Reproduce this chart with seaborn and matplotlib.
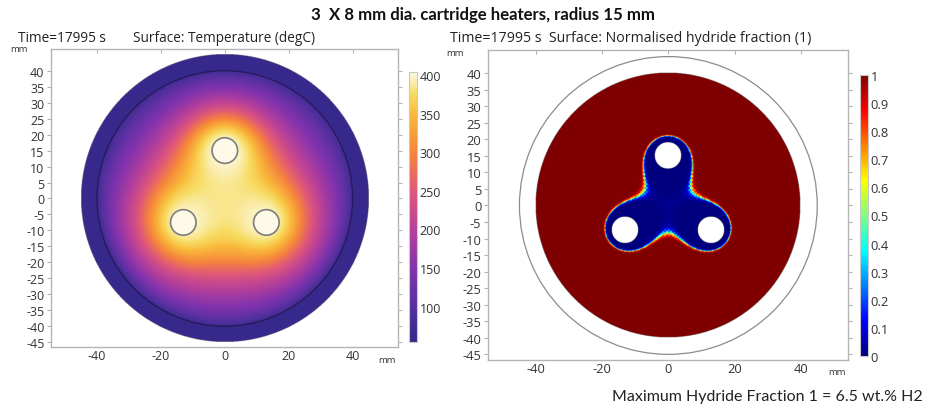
import numpy as np
import matplotlib
matplotlib.use("Agg")
import matplotlib.pyplot as plt
from matplotlib.colors import LinearSegmentedColormap
from matplotlib.patches import Circle
import seaborn as sns

# ---- text -----------------------------------------------------------------
title = "3  X 8 mm dia. cartridge heaters, radius 15 mm"
left_time = "Time=17995 s"
left_surface = "Surface: Temperature (degC)"
right_caption = "Time=17995 s  Surface: Normalised hydride fraction (1)"
footnote = "Maximum Hydride Fraction 1 = 6.5 wt.% H2"

# ---- geometry (mm) ----------------------------------------------------------
heater_x = [0.0, -13.0, 13.0]
heater_y = [15.0, -7.5, -7.5]
heater_decay = [9.5, 12.5, 12.5]   # mm, thermal reach of each heater
heater_radius = 4.0
bed_radius = 40.0
jacket_radius = 45.0

# ---- temperature model parameters ------------------------------------------
temp_jacket = 58.0      # degC in the outer jacket
temp_wall = 72.0        # degC on the inside of the bed wall
temp_heater = 404.0     # degC at the heater surface
wall_decay = 3.0        # mm, cooling layer towards the wall
saturation = 6.0

# ---- dehydriding front parameters ------------------------------------------
front_decay = 10.0      # mm
front_level = 0.64
front_width = 0.007
front_ripple = 0.006
ripple_period = 1.2     # mm

# ---- axes / colour bars ----------------------------------------------------
x_ticks = [-40, -20, 0, 20, 40]
y_ticks = [-45, -40, -35, -30, -25, -20, -15, -10, -5, 0, 5, 10, 15, 20, 25, 30, 35, 40]
temp_ticks = [100, 150, 200, 250, 300, 350, 400]
temp_range = [54.0, 404.0]
fraction_ticks = [0, 0.1, 0.2, 0.3, 0.4, 0.5, 0.6, 0.7, 0.8, 0.9, 1]
fraction_labels = ["0", "0.1", "0.2", "0.3", "0.4", "0.5", "0.6", "0.7", "0.8", "0.9", "1"]

temp_stops = [0.0, 0.13, 0.27, 0.42, 0.56, 0.70, 0.84, 0.92, 1.0]
temp_colors = ["#35298a", "#55309f", "#8233ad", "#b8409a", "#df5878",
               "#f5843c", "#f9b73a", "#f7dc62", "#fdfae8"]
rainbow_colors = ["#00007f", "#0000ff", "#007fff", "#00ffff", "#7fff7f",
                  "#ffff00", "#ff7f00", "#ff0000", "#7f0000"]

sns.set_theme(style="white")
plt.rcParams["font.family"] = ["Open Sans", "DejaVu Sans"]

temp_cmap = LinearSegmentedColormap.from_list(
    "heat_light", list(zip(temp_stops, temp_colors)))
frac_cmap = sns.blend_palette(rainbow_colors, n_colors=256, as_cmap=True)

# ---- fields ---------------------------------------------------------------
n = 901
grid = np.linspace(-jacket_radius, jacket_radius, n)
X, Y = np.meshgrid(grid, grid)
R = np.hypot(X, Y)

influence = np.zeros_like(X)
front = np.zeros_like(X)
inside_heater = np.zeros_like(X, dtype=bool)
for hx, hy, lam in zip(heater_x, heater_y, heater_decay):
    d = np.hypot(X - hx, Y - hy)
    inside_heater |= d <= heater_radius
    influence += np.exp(-np.clip(d - heater_radius, 0, None) / lam)
    front += np.exp(-d / front_decay)
influence = (influence ** -saturation + 1) ** (-1 / saturation)
wall = np.clip(1 - np.exp(-(bed_radius - R) / wall_decay), 0, 1)
temperature = temp_wall + (temp_heater - temp_wall) * influence * wall
temperature[R > bed_radius] = temp_jacket
temperature[inside_heater] = temp_heater
temperature = np.ma.masked_where(R > jacket_radius, temperature)

ripple = front_ripple * np.sin(2 * np.pi * X / ripple_period) \
    * np.sin(2 * np.pi * Y / ripple_period)
fraction = 1.0 / (1.0 + np.exp((front - front_level + ripple) / front_width))
fraction = np.ma.masked_where((R > bed_radius) | inside_heater, fraction)

# ---- figure ---------------------------------------------------------------
W, H = 925, 410
fig = plt.figure(figsize=(W / 100, H / 100), dpi=100)


def box(x0, y0, x1, y1):
    return [x0 / W, 1 - y1 / H, (x1 - x0) / W, (y1 - y0) / H]


spine_col = "#b4b4b4"
tick_col = "#333333"


def style_axes(ax, xlim, ylim, size):
    ax.set_xlim(*xlim)
    ax.set_ylim(*ylim)
    ax.set_xticks(x_ticks)
    ax.set_yticks(y_ticks)
    ax.set_xticklabels([str(v) for v in x_ticks])
    ax.set_yticklabels([str(v) for v in y_ticks])
    for sp in ax.spines.values():
        sp.set_visible(True)
        sp.set_color(spine_col)
        sp.set_linewidth(1.0)
    ax.tick_params(axis="both", which="major", labelsize=size, colors=tick_col,
                   length=3, width=0.8, color=spine_col, pad=1.5,
                   direction="in", top=True, right=True)
    ax.tick_params(axis="y", left=True, direction="out")
    ax.grid(False)
    ax.set_facecolor("white")


# left: temperature
axL = fig.add_axes(box(50.7, 49, 398, 349))
axL.imshow(temperature, origin="lower", cmap=temp_cmap, vmin=temp_range[0],
           vmax=temp_range[1], extent=[-jacket_radius, jacket_radius,
                                       -jacket_radius, jacket_radius],
           interpolation="bilinear", zorder=1)
axL.add_patch(Circle((0, 0), bed_radius, fill=False, ec="#261b5c", lw=1.0, zorder=3))
for hx, hy in zip(heater_x, heater_y):
    axL.add_patch(Circle((hx, hy), heater_radius, fc=temp_cmap(1.0),
                         ec="#7d7d7a", lw=1.2, zorder=3))
style_axes(axL, (-54.5, 54.2), (-46.6, 46.9), 9)

# right: hydride fraction
axR = fig.add_axes(box(487.7, 50, 848, 362.3))
axR.imshow(fraction, origin="lower", cmap=frac_cmap, vmin=0, vmax=1,
           extent=[-jacket_radius, jacket_radius, -jacket_radius, jacket_radius],
           interpolation="bilinear", zorder=1)
axR.add_patch(Circle((0, 0), jacket_radius, fill=False, ec="#8c8c8c", lw=0.9, zorder=3))
style_axes(axR, (-54.6, 54.3), (-46.8, 47.0), 9.3)

# colour bars
caxL = fig.add_axes(box(409, 73, 417, 343))
cbL = fig.colorbar(axL.images[0], cax=caxL, ticks=temp_ticks)
caxR = fig.add_axes(box(860, 76, 868, 357))
cbR = fig.colorbar(axR.images[0], cax=caxR, ticks=fraction_ticks)
cbR.set_ticklabels(fraction_labels)
for cb, size in ((cbL, 9), (cbR, 9.3)):
    cb.outline.set_edgecolor("#c8c8c8")
    cb.outline.set_linewidth(0.8)
    cb.ax.tick_params(labelsize=size, colors=tick_col, length=2, width=0.8,
                      color="#555555", direction="in", pad=2)

# text
fig.text(483 / W, 1 - 15 / H, title, ha="center", va="center",
         fontsize=12.1, fontweight="bold", family=["Lato", "DejaVu Sans"],
         color="#111111")
fig.text(18 / W, 1 - 38 / H, left_time, ha="left", va="center", fontsize=9.8,
         color="#222222")
fig.text(133 / W, 1 - 38 / H, left_surface, ha="left", va="center",
         fontsize=9.8, color="#222222")
fig.text(450 / W, 1 - 39 / H, right_caption, ha="left", va="center",
         fontsize=10.2, color="#222222")
for (mx, my) in [(10, 50), (446, 53), (378, 361), (828, 373)]:
    fig.text(mx / W, 1 - my / H, "mm", ha="left", va="center", fontsize=6.8,
             color="#333333")
fig.text(923 / W, 1 - 397 / H, footnote, ha="right", va="center",
         fontsize=11.5, family=["Lato", "DejaVu Sans"], color="#222222")

fig.savefig("out.png", dpi=100)
